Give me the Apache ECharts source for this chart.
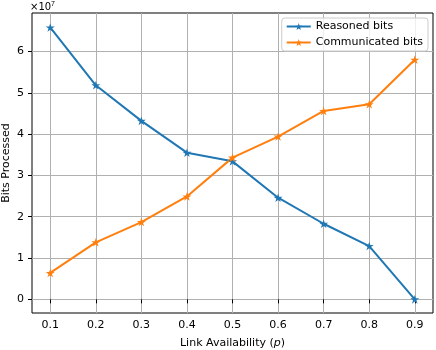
<!DOCTYPE html>
<html>
<head>
<meta charset="utf-8">
<script src="https://cdn.jsdelivr.net/npm/echarts@6/dist/echarts.min.js"></script>
<style>
  html, body { margin: 0; padding: 0; background: #fff; }
  #chart { width: 436px; height: 350px; }
</style>
</head>
<body>
<div id="chart"></div>
<script>
// link availability values
var linkP = [0.1, 0.2, 0.3, 0.4, 0.5, 0.6, 0.7, 0.8, 0.9];
// values in units of 1e7 bits
var reasoned = [6.58, 5.18, 4.32, 3.55, 3.34, 2.46, 1.83, 1.29, 0.0];
var communicated = [0.64, 1.38, 1.87, 2.49, 3.43, 3.94, 4.56, 4.72, 5.80];
var xTicks = [0.1, 0.2, 0.3, 0.4, 0.5, 0.6, 0.7, 0.8, 0.9];
var yTicks = [0, 1, 2, 3, 4, 5, 6];

var FONT = 'DejaVu Sans';
var star = 'path://M100 0 L122.45 69.1 L195.1 69.1 L136.3 111.8 L158.8 180.9 L100 138.2 L41.2 180.9 L63.7 111.8 L4.9 69.1 L77.55 69.1 Z';

function pairs(xs, ys) {
  return xs.map(function (x, i) { return [x, ys[i]]; });
}

var chart = echarts.init(document.getElementById('chart'), null, { renderer: 'canvas' });

chart.setOption({
  animation: false,
  backgroundColor: '#fff',
  textStyle: { fontFamily: FONT },
  grid: {
    left: 32, top: 13, right: 3, bottom: 37,
    outerBoundsMode: 'none',
    containLabel: false,
    show: true, borderColor: '#000', borderWidth: 1, backgroundColor: 'transparent'
  },
  legend: {
    right: 8, top: 18,
    orient: 'vertical',
    itemWidth: 24, itemHeight: 9,
    itemGap: 5,
    padding: [3, 5, 3, 4],
    backgroundColor: 'rgba(255,255,255,0.8)',
    borderColor: '#ccc', borderWidth: 1, borderRadius: 3,
    textStyle: { fontFamily: FONT, fontSize: 11, color: '#000' },
    data: ['Reasoned bits', 'Communicated bits']
  },
  xAxis: {
    type: 'value',
    min: 0.06, max: 0.94,
    name: 'Link Availability ({i|p})',
    nameLocation: 'middle',
    nameGap: 25,
    nameMoveOverlap: false,
    nameTextStyle: {
      fontFamily: FONT, fontSize: 11, color: '#000',
      rich: { i: { fontStyle: 'italic', fontFamily: FONT, fontSize: 11 } }
    },
    axisLine: { show: false },
    axisTick: { show: true, customValues: xTicks, length: 4, lineStyle: { color: '#000' } },
    axisLabel: {
      customValues: xTicks, fontFamily: FONT, fontSize: 11, color: '#000', margin: 7,
      formatter: function (v) { return v.toFixed(1); }
    },
    splitLine: { show: true, lineStyle: { color: '#b0b0b0', width: 1 } }
  },
  yAxis: {
    type: 'value',
    min: -0.33, max: 6.93,
    axisLine: { show: false },
    axisTick: { show: true, customValues: yTicks, length: 4, lineStyle: { color: '#000' } },
    axisLabel: {
      customValues: yTicks, fontFamily: FONT, fontSize: 11, color: '#000', margin: 8
    },
    splitLine: { show: true, lineStyle: { color: '#b0b0b0', width: 1 } }
  },
  graphic: [{
    type: 'text',
    left: 30, top: 1,
    style: {
      text: '×10{s|7}',
      font: '10px "DejaVu Sans"',
      fill: '#000',
      rich: { s: { fontSize: 7, verticalAlign: 'top', padding: [0, 0, 6, 0] } }
    }
  }, {
    type: 'text',
    x: 6, y: 163,
    rotation: Math.PI / 2,
    style: {
      text: 'Bits Processed',
      font: '11px "DejaVu Sans"',
      fill: '#000',
      align: 'center',
      verticalAlign: 'middle'
    }
  }],
  series: [
    {
      name: 'Reasoned bits',
      type: 'line',
      data: pairs(linkP, reasoned),
      symbol: star,
      symbolSize: 9,
      symbolKeepAspect: true,
      color: '#1f77b4',
      lineStyle: { width: 2, color: '#1f77b4' },
      itemStyle: { color: '#1f77b4' }
    },
    {
      name: 'Communicated bits',
      type: 'line',
      data: pairs(linkP, communicated),
      symbol: star,
      symbolSize: 9,
      symbolKeepAspect: true,
      color: '#ff7f0e',
      lineStyle: { width: 2, color: '#ff7f0e' },
      itemStyle: { color: '#ff7f0e' }
    }
  ]
});
</script>
</body>
</html>
